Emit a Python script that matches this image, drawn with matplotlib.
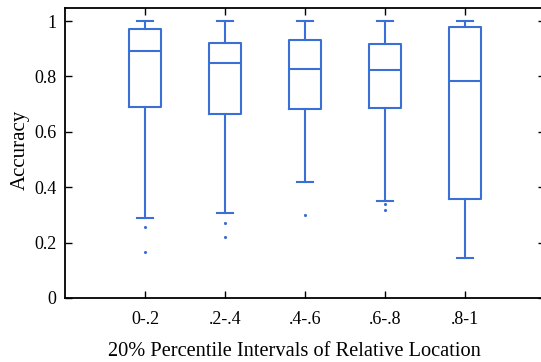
import matplotlib
matplotlib.use("Agg")
import matplotlib.pyplot as plt

categories = ["0-.2", ".2-.4", ".4-.6", ".6-.8", ".8-1"]
whisker_low = [0.288, 0.308, 0.419, 0.351, 0.144]
q1 = [0.691, 0.665, 0.681, 0.687, 0.356]
median = [0.890, 0.850, 0.827, 0.824, 0.785]
q3 = [0.972, 0.922, 0.931, 0.917, 0.980]
whisker_high = [1.0, 1.0, 1.0, 1.0, 1.0]
outliers = [[0.257, 0.166], [0.272, 0.219], [0.300], [0.339, 0.317], []]
yticks = [0, 0.2, 0.4, 0.6, 0.8, 1.0]
ytick_labels = ["0", "0.2", "0.4", "0.6", "0.8", "1"]

plt.rcParams["font.family"] = ["Liberation Serif", "DejaVu Serif"]
color = "#3a6fd6"

fig = plt.figure(figsize=(5.41, 3.62), dpi=100)
W, H = 541, 362
ax = fig.add_axes([65 / W, (H - 298) / H, 480 / W, 290 / H])

stats = []
for i, c in enumerate(categories):
    stats.append(dict(label=c, whislo=whisker_low[i], q1=q1[i], med=median[i],
                      q3=q3[i], whishi=whisker_high[i], fliers=outliers[i]))

lp = dict(color=color, linewidth=1.5)
ax.bxp(stats, positions=range(1, len(categories) + 1), widths=0.4,
       boxprops=lp, medianprops=lp, whiskerprops=lp, capprops=lp,
       flierprops=dict(marker='.', markersize=2.5, markerfacecolor=color,
                       markeredgecolor=color, linestyle='none'),
       showfliers=True)

ax.set_xlim(0, 6)
ax.set_ylim(0, 1.047)
ax.set_yticks(yticks)
ax.set_yticklabels(ytick_labels)
ax.set_xticks(range(1, len(categories) + 1))
ax.set_xticklabels(categories)
ax.tick_params(direction="in", top=True, right=True, labelsize=13, length=5,
               width=1, pad=6)
ax.tick_params(axis='x', pad=9)
for s in ax.spines.values():
    s.set_linewidth(1.3)
ax.set_ylabel("Accuracy", fontsize=15)
ax.yaxis.set_label_coords(-0.074, 0.51)
ax.set_xlabel("20% Percentile Intervals of Relative Location", fontsize=14.7)
ax.xaxis.set_label_coords(0.478, -0.152)

fig.savefig("out.png", dpi=100)
